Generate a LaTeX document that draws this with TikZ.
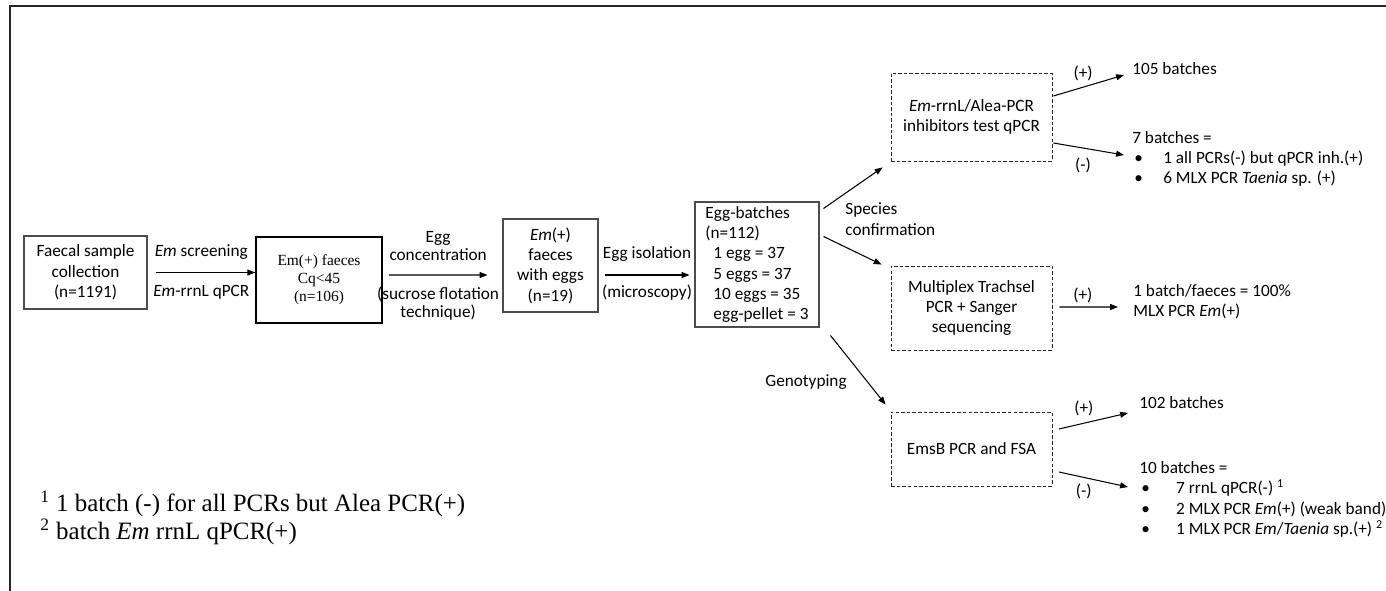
\documentclass[tikz,border=0pt]{standalone}
\usepackage{fontspec}
\setmainfont{Carlito}
\newfontfamily\timesfont{Liberation Serif}
\usepackage{tikz}
\usetikzlibrary{arrows.meta,calc}
\newcommand\bul[1][0.62cm]{\makebox[#1][l]{\hspace{0.04cm}\textbullet}}

\begin{document}
\begin{tikzpicture}[x=0.02cm, y=-0.02cm,
	every node/.style={font=\fontsize{9.8}{11.6}\selectfont, inner sep=0pt},
	solidbox/.style={draw=black!70, line width=0.6pt, align=center},
	dashbox/.style={draw=black!85, line width=0.5pt, dash pattern=on 2pt off 1.2pt, minimum width=3.22cm, align=center},
	arr/.style={-{Triangle[length=4.5pt,width=3.4pt]}, line width=0.6pt},
	lbl/.style={align=center},
	res/.style={anchor=west, align=left}]
	\useasboundingbox (0,0) rectangle (1386,591);
	\draw[line width=1.1pt, black!85] (1386,6) -- (10,6) -- (10,591);

	\node[solidbox, minimum width=2.46cm, minimum height=1.46cm] (faecal) at (85.5,272.5) {Faecal sample\\collection\\(n=1191)};
	\node[solidbox, draw=black, line width=0.9pt, minimum width=2.52cm, minimum height=1.72cm, font=\timesfont\fontsize{8.8}{10.2}\selectfont] (emfaeces) at (319,280) {Em(+) faeces\\Cq<45\\(n=106)};
	\node[solidbox, minimum width=1.9cm, minimum height=1.86cm] (eggfaeces) at (550.5,265.5) {\emph{Em}(+)\\faeces\\with eggs\\(n=19)};
	\node[solidbox, minimum width=2.48cm, minimum height=2.5cm, align=left] (batches) at (757,264.5) {Egg-batches\\(n=112)\\\hspace*{0.16cm}1 egg = 37\\\hspace*{0.16cm}5 eggs = 37\\\hspace*{0.16cm}10 eggs = 35\\\hspace*{0.16cm}egg-pellet = 3};

	\node[dashbox, minimum height=1.76cm] (inhib) at (971.5,117) {\emph{Em}-rrnL/Alea-PCR\\inhibitors test qPCR};
	\node[dashbox, minimum height=1.68cm] (mlx) at (971.5,308) {Multiplex Trachsel\\PCR + Sanger\\sequencing};
	\node[dashbox, minimum height=1.48cm] (emsb) at (971.5,449) {EmsB PCR and FSA};

	\node[res] (r105) at (1132,69) {105 batches};
	\node[res] (r7) at (1132,159) {7 batches =\\\bul 1 all PCRs(-) but qPCR inh.(+)\\\bul 6 MLX PCR \emph{Taenia} sp. (+)};
	\node[res] (r100) at (1133,301.5) {1 batch/faeces = 100\%\\MLX PCR \emph{Em}(+)};
	\node[res] (r102) at (1139,403) {102 batches};
	\node[res] (r10) at (1139,499.5) {10 batches =\\\bul[0.66cm] 7 rrnL qPCR(-) \textsuperscript{1}\\\bul[0.66cm] 2 MLX PCR \emph{Em}(+) (weak band)\\\bul[0.66cm] 1 MLX PCR \emph{Em}/\emph{Taenia} sp.(+) \textsuperscript{2}};

	\node[res, align=left] (species) at (845,219) {Species\\confirmation};
	\node[anchor=east] (geno) at (847,382) {Genotyping};

	\node[res, font=\timesfont\fontsize{14.2}{13.6}\selectfont] (notes) at (40,518) {\textsuperscript{1} 1 batch (-) for all PCRs but Alea PCR(+)\\\textsuperscript{2} batch \emph{Em} rrnL qPCR(+)};

	\draw[arr, shorten <=0.16cm] (faecal.east) -- (faecal.east -| emfaeces.west)
		node[lbl, midway, yshift=0.4cm] (scr) {\emph{Em} screening}
		node[lbl, midway, yshift=-0.4cm] (rrnl) {\emph{Em}-rrnL qPCR};
	\draw[arr] ($(emfaeces.east)+(6,-5)$) -- ($(eggfaeces.west)+(-15,9.5)$)
		node[lbl, midway, yshift=0.58cm, font=\fontsize{9.8}{10.6}\selectfont] (conc) {Egg\\concentration}
		node[lbl, midway, yshift=-0.57cm, font=\fontsize{9.8}{10.6}\selectfont] (flot) {(sucrose flotation\\technique)};
	\draw[arr] ($(eggfaeces.east)+(6,9.5)$) -- ($(batches.west)+(-5,10.5)$)
		node[lbl, midway, yshift=0.42cm] (iso) {Egg isolation}
		node[lbl, midway, yshift=-0.36cm] (micro) {(microscopy)};

	\draw[arr] ($(batches.north east)+(4,7)$) -- ($(inhib.south west)+(-8,6)$);
	\draw[arr] ($(batches.north east)+(4,35)$) -- ($(mlx.north west)+(-9,-1)$);
	\draw[arr] ($(batches.south east)+(11,8)$) -- ($(emsb.north west)+(-5,-7)$);

	\draw[arr] ($(inhib.east)+(1,-21)$) -- ($(r105.west)+(-8,6)$)
		node[pos=0.42, yshift=0.28cm] (pA) {(+)};
	\draw[arr] ($(inhib.east)+(1,26)$) -- ($(r7.west)+(-8,-4)$)
		node[pos=0.42, yshift=-0.34cm] (mA) {(-)};
	\draw[arr] ($(mlx.east)+(7,-1)$) -- ($(r100.west)+(-15,5.5)$)
		node[pos=0.4, yshift=0.24cm] (pB) {(+)};
	\draw[arr] ($(emsb.east)+(6.5,-20)$) -- ($(r102.west)+(-11,10)$)
		node[pos=0.36, yshift=0.3cm] (pC) {(+)};
	\draw[arr] ($(emsb.east)+(6.5,23)$) -- ($(r10.west)+(-11,-12.5)$)
		node[pos=0.36, yshift=-0.28cm] (mC) {(-)};
\end{tikzpicture}
\end{document}
